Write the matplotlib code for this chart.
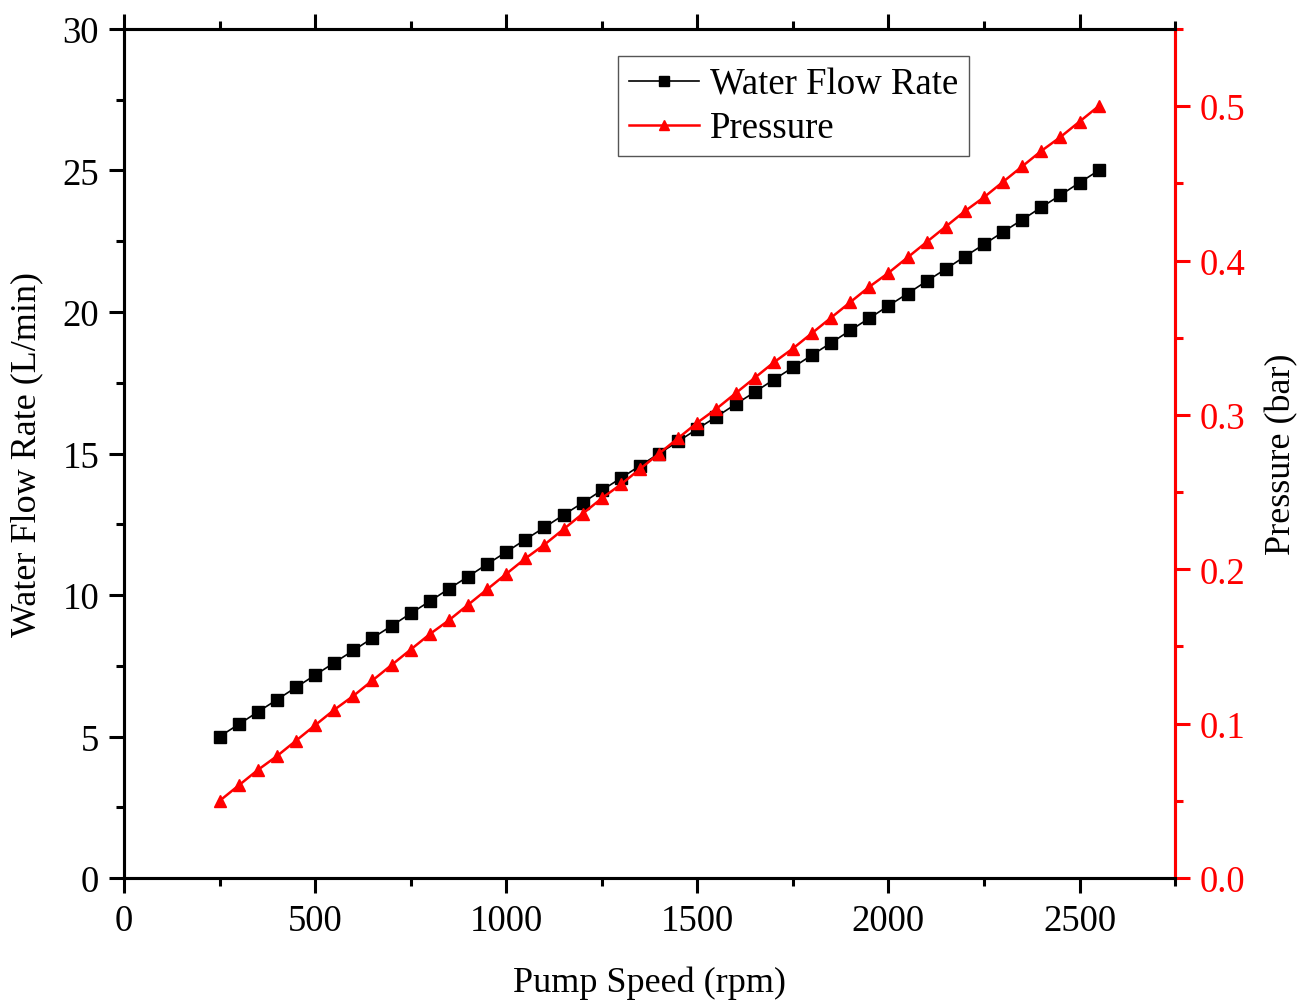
import matplotlib.pyplot as plt
from matplotlib.ticker import MultipleLocator

plt.rcParams["font.family"] = ["Liberation Serif", "DejaVu Serif"]

pump_speed = [250, 300, 350, 400, 450, 500, 550, 600, 650, 700, 750, 800,
              850, 900, 950, 1000, 1050, 1100, 1150, 1200, 1250, 1300, 1350,
              1400, 1450, 1500, 1550, 1600, 1650, 1700, 1750, 1800, 1850,
              1900, 1950, 2000, 2050, 2100, 2150, 2200, 2250, 2300, 2350,
              2400, 2450, 2500, 2550]
flow_rate = [5.00, 5.43, 5.87, 6.30, 6.74, 7.17, 7.61, 8.04, 8.48, 8.91,
             9.35, 9.78, 10.22, 10.65, 11.09, 11.52, 11.96, 12.39, 12.83,
             13.26, 13.70, 14.13, 14.57, 15.00, 15.43, 15.87, 16.30, 16.74,
             17.17, 17.61, 18.04, 18.48, 18.91, 19.35, 19.78, 20.22, 20.65,
             21.09, 21.52, 21.96, 22.39, 22.83, 23.26, 23.70, 24.13, 24.57,
             25.00]
pressure = [0.050, 0.060, 0.070, 0.079, 0.089, 0.099, 0.109, 0.118, 0.128,
            0.138, 0.148, 0.158, 0.167, 0.177, 0.187, 0.197, 0.207, 0.216,
            0.226, 0.236, 0.246, 0.255, 0.265, 0.275, 0.285, 0.295, 0.304,
            0.314, 0.324, 0.334, 0.343, 0.353, 0.363, 0.373, 0.383, 0.392,
            0.402, 0.412, 0.422, 0.432, 0.441, 0.451, 0.461, 0.471, 0.480,
            0.490, 0.500]

FS = 26.5
fig = plt.figure(figsize=(12.99, 10.03), dpi=100)
ax = fig.add_axes([0.0955, 0.1236, 0.8091, 0.8465])
ax2 = ax.twinx()

l1, = ax.plot(pump_speed, flow_rate, color="black", lw=1.2, marker="s",
              markersize=8, label="Water Flow Rate")
l2, = ax2.plot(pump_speed, pressure, color="red", lw=1.8, marker="^",
               markersize=9, label="Pressure")

ax.set_xlim(0, 2750)
ax.set_ylim(0, 30)
ax2.set_ylim(0, 0.55)

ax.xaxis.set_major_locator(MultipleLocator(500))
ax.xaxis.set_minor_locator(MultipleLocator(250))
ax.yaxis.set_major_locator(MultipleLocator(5))
ax.yaxis.set_minor_locator(MultipleLocator(2.5))
ax2.yaxis.set_major_locator(MultipleLocator(0.1))
ax2.yaxis.set_minor_locator(MultipleLocator(0.05))
ax2.yaxis.set_major_formatter(plt.FormatStrFormatter("%.1f"))

for a in (ax, ax2):
    for s in a.spines.values():
        s.set_linewidth(2.2)
ax2.spines["right"].set_color("red")

ax.tick_params(axis="both", which="both", direction="out", width=2.2,
               labelsize=FS, top=True, right=False)
ax.tick_params(which="major", length=11, pad=7)
ax.tick_params(which="minor", length=6)
ax.tick_params(axis="x", labeltop=False)
ax2.tick_params(axis="y", which="both", direction="out", width=2.2,
                colors="red", labelsize=FS)
ax2.tick_params(axis="y", which="major", length=11, pad=7)
ax2.tick_params(axis="y", which="minor", length=6)

ax.set_xlabel("Pump Speed (rpm)", fontsize=26, labelpad=20)
ax.set_ylabel("Water Flow Rate (L/min)", fontsize=26, labelpad=14)
ax2.set_ylabel("Pressure (bar)", fontsize=26, labelpad=14)

leg = ax.legend(handles=[l1, l2], loc="upper right",
                bbox_to_anchor=(0.804, 0.968), fontsize=FS, fancybox=False,
                framealpha=1, edgecolor="#555555", borderaxespad=0,
                handlelength=1.9, handletextpad=0.3, borderpad=0.3,
                labelspacing=0.25, markerscale=0.85)
leg.get_frame().set_linewidth(1.0)

fig.savefig("out.png", dpi=100)
